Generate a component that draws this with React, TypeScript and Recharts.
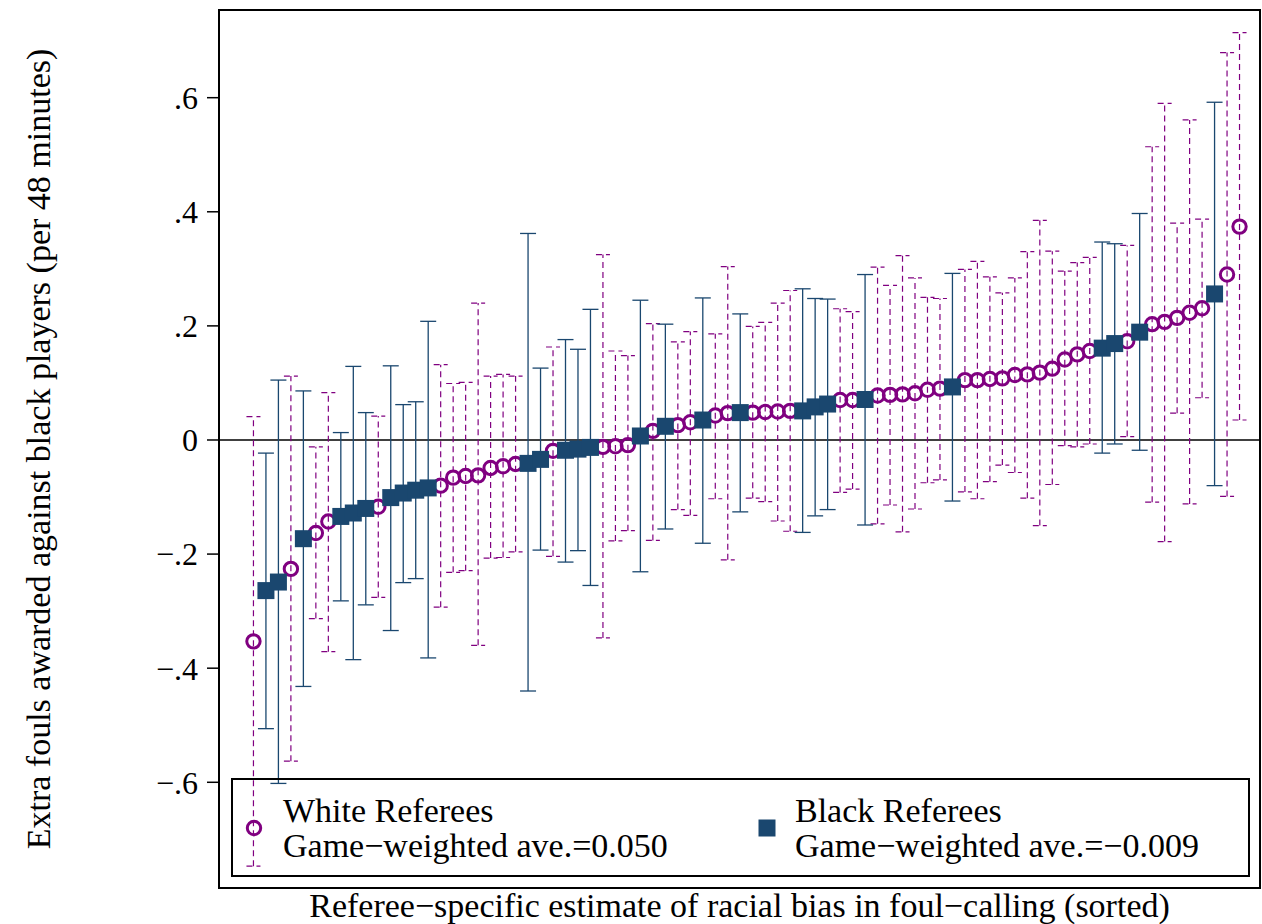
import React from "react";
import {
  ScatterChart,
  Scatter,
  XAxis,
  YAxis,
  ErrorBar,
  ReferenceLine,
  ReferenceArea,
  Legend,
} from "recharts";

const FONT = '"Liberation Serif", "Times New Roman", Times, serif';
const PURPLE = "#800080";
const NAVY = "#1a476f";

// referees sorted by estimate; W = white referee, B = black referee
const refereeRace = [
  "W", "B", "B", "W", "B", "W", "W", "B", "B", "B",
  "W", "B", "B", "B", "B", "W", "W", "W", "W", "W",
  "W", "W", "B", "B", "W", "B", "B", "B", "W", "W",
  "W", "B", "W", "B", "W", "W", "B", "W", "W", "B",
  "W", "W", "W", "W", "B", "B", "B", "W", "W", "B",
  "W", "W", "W", "W", "W", "W", "B", "W", "W", "W",
  "W", "W", "W", "W", "W", "W", "W", "W", "B", "B",
  "W", "B", "W", "W", "W", "W", "W", "B", "W", "W",
];

const estimates = [
  -0.353, -0.264, -0.249, -0.226, -0.173, -0.163, -0.143, -0.134, -0.128, -0.12,
  -0.117, -0.101, -0.093, -0.088, -0.084, -0.08, -0.066, -0.063, -0.062, -0.049,
  -0.046, -0.042, -0.041, -0.034, -0.019, -0.018, -0.016, -0.013, -0.012, -0.011,
  -0.009, 0.007, 0.016, 0.024, 0.026, 0.031, 0.035, 0.043, 0.047, 0.048,
  0.048, 0.049, 0.05, 0.051, 0.051, 0.058, 0.063, 0.07, 0.07, 0.071,
  0.078, 0.079, 0.08, 0.082, 0.088, 0.09, 0.093, 0.105, 0.105, 0.107,
  0.108, 0.114, 0.115, 0.118, 0.125, 0.141, 0.15, 0.156, 0.161, 0.169,
  0.173, 0.189, 0.203, 0.207, 0.214, 0.223, 0.231, 0.256, 0.29, 0.374,
];

const lowerCI = [
  -0.747, -0.506, -0.602, -0.563, -0.432, -0.313, -0.371, -0.282, -0.385, -0.289,
  -0.276, -0.334, -0.25, -0.243, -0.382, -0.293, -0.232, -0.229, -0.36, -0.207,
  -0.206, -0.196, -0.44, -0.193, -0.204, -0.214, -0.194, -0.255, -0.347, -0.177,
  -0.159, -0.231, -0.176, -0.156, -0.122, -0.132, -0.181, -0.103, -0.21, -0.126,
  -0.102, -0.108, -0.142, -0.16, -0.162, -0.133, -0.122, -0.092, -0.086, -0.149,
  -0.147, -0.114, -0.161, -0.121, -0.075, -0.07, -0.107, -0.091, -0.103, -0.073,
  -0.044, -0.057, -0.102, -0.15, -0.078, -0.01, -0.012, -0.007, -0.023, -0.007,
  0.006, -0.018, -0.109, -0.178, 0.047, -0.112, 0.074, -0.08, -0.099, 0.035,
];

const upperCI = [
  0.041, -0.023, 0.105, 0.112, 0.086, -0.012, 0.083, 0.013, 0.129, 0.048,
  0.042, 0.13, 0.062, 0.067, 0.208, 0.132, 0.099, 0.101, 0.24, 0.112,
  0.115, 0.112, 0.362, 0.126, 0.163, 0.176, 0.159, 0.229, 0.325, 0.156,
  0.148, 0.245, 0.204, 0.203, 0.172, 0.19, 0.249, 0.186, 0.304, 0.221,
  0.199, 0.206, 0.24, 0.262, 0.265, 0.248, 0.247, 0.23, 0.225, 0.29,
  0.303, 0.271, 0.323, 0.284, 0.25, 0.248, 0.292, 0.299, 0.313, 0.286,
  0.258, 0.284, 0.33, 0.385, 0.331, 0.296, 0.311, 0.32, 0.347, 0.344,
  0.341, 0.397, 0.514, 0.59, 0.38, 0.561, 0.387, 0.592, 0.679, 0.714,
];

const yTicks = [-0.6, -0.4, -0.2, 0, 0.2, 0.4, 0.6];
const yTickLabels = ["\u2212.6", "\u2212.4", "\u2212.2", "0", ".2", ".4", ".6"];
const seriesNames = ["White Referees", "Black Referees"];
const seriesNotes = ["Game\u2212weighted ave.=0.050", "Game\u2212weighted ave.=\u22120.009"];
const xTitle = "Referee\u2212specific estimate of racial bias in foul\u2212calling (sorted)";
const yTitle = "Extra fouls awarded against black players (per 48 minutes)";

const xDomain: [number, number] = [-1.76, 81.64];
const yDomain: [number, number] = [-0.7853, 0.7537];

const rows = estimates.map((v, i) => ({
  rank: i + 1,
  est: v,
  err: [v - lowerCI[i], upperCI[i] - v],
}));
const whiteData = rows.filter((_, i) => refereeRace[i] === "W");
const blackData = rows.filter((_, i) => refereeRace[i] === "B");

const WhiteDot = (p: any) => (
  <circle cx={p.cx} cy={p.cy} r={6.7} fill="none" stroke={PURPLE} strokeWidth={3} />
);
const BlackSquare = (p: any) => (
  <rect x={p.cx - 8.5} y={p.cy - 8.5} width={17} height={17} fill={NAVY} />
);

function LegendBox() {
  return (
    <svg width={1019} height={99} style={{ display: "block" }}>
      <rect x={1} y={1} width={1017} height={97} fill="none" stroke="#000" strokeWidth={2} />
      <circle cx={23} cy={50} r={6.7} fill="none" stroke={PURPLE} strokeWidth={3} />
      <rect x={527.5} y={41.5} width={17} height={17} fill={NAVY} />
      {[0, 1].map((k) => (
        <text key={k} fontFamily={FONT} fontSize={34} fill="#000">
          <tspan x={k === 0 ? 52 : 564} y={44}>{seriesNames[k]}</tspan>
          <tspan x={k === 0 ? 52 : 564} y={79}>{seriesNotes[k]}</tspan>
        </text>
      ))}
    </svg>
  );
}

export default function App() {
  return (
    <div style={{ position: "absolute", left: 0, top: 0, width: 1262, height: 924, background: "#fff" }}>
      <ScatterChart width={1262} height={924} margin={{ top: 10, right: 2, bottom: 0, left: 0 }}>
        <XAxis
          type="number"
          dataKey="rank"
          domain={xDomain}
          allowDataOverflow
          tick={false}
          tickLine={false}
          axisLine={false}
          height={36}
          label={(props: any) => {
            const vb = props.viewBox;
            return (
              <text x={vb.x + vb.width / 2} y={vb.y + 29} textAnchor="middle" fontFamily={FONT} fontSize={34} fill="#000">
                {xTitle}
              </text>
            );
          }}
        />
        <YAxis
          type="number"
          dataKey="est"
          domain={yDomain}
          allowDataOverflow
          ticks={yTicks}
          tickFormatter={(v: number) => yTickLabels[yTicks.indexOf(v)] ?? ""}
          axisLine={false}
          tickSize={12}
          tickMargin={9}
          tickLine={{ stroke: "#000", strokeWidth: 1.5 }}
          tick={{ fill: "#000", fontSize: 32, fontFamily: FONT }}
          width={219}
          label={(props: any) => {
            const vb = props.viewBox;
            const cy = vb.y + vb.height / 2;
            return (
              <text x={50} y={cy} transform={`rotate(-90 50 ${cy})`} textAnchor="middle" fontFamily={FONT} fontSize={34} fill="#000">
                {yTitle}
              </text>
            );
          }}
        />
        <ReferenceLine y={0} stroke="#000" strokeWidth={1.3} />
        <Scatter data={whiteData} shape={WhiteDot} isAnimationActive={false}>
          <ErrorBar dataKey="err" direction="y" width={7} stroke={PURPLE} strokeWidth={1.2} strokeDasharray="6 4" />
        </Scatter>
        <Scatter data={blackData} shape={BlackSquare} isAnimationActive={false}>
          <ErrorBar dataKey="err" direction="y" width={8} stroke={NAVY} strokeWidth={1.3} />
        </Scatter>
        <ReferenceArea
          x1={xDomain[0]}
          x2={xDomain[1]}
          y1={yDomain[0]}
          y2={yDomain[1]}
          fill="none"
          stroke="#000"
          strokeWidth={2}
        />
        <Legend
          layout="horizontal"
          verticalAlign="middle"
          align="center"
          content={() => <LegendBox />}
          wrapperStyle={{ left: 231, top: 778, width: 1019, height: 99 }}
        />
      </ScatterChart>
    </div>
  );
}
